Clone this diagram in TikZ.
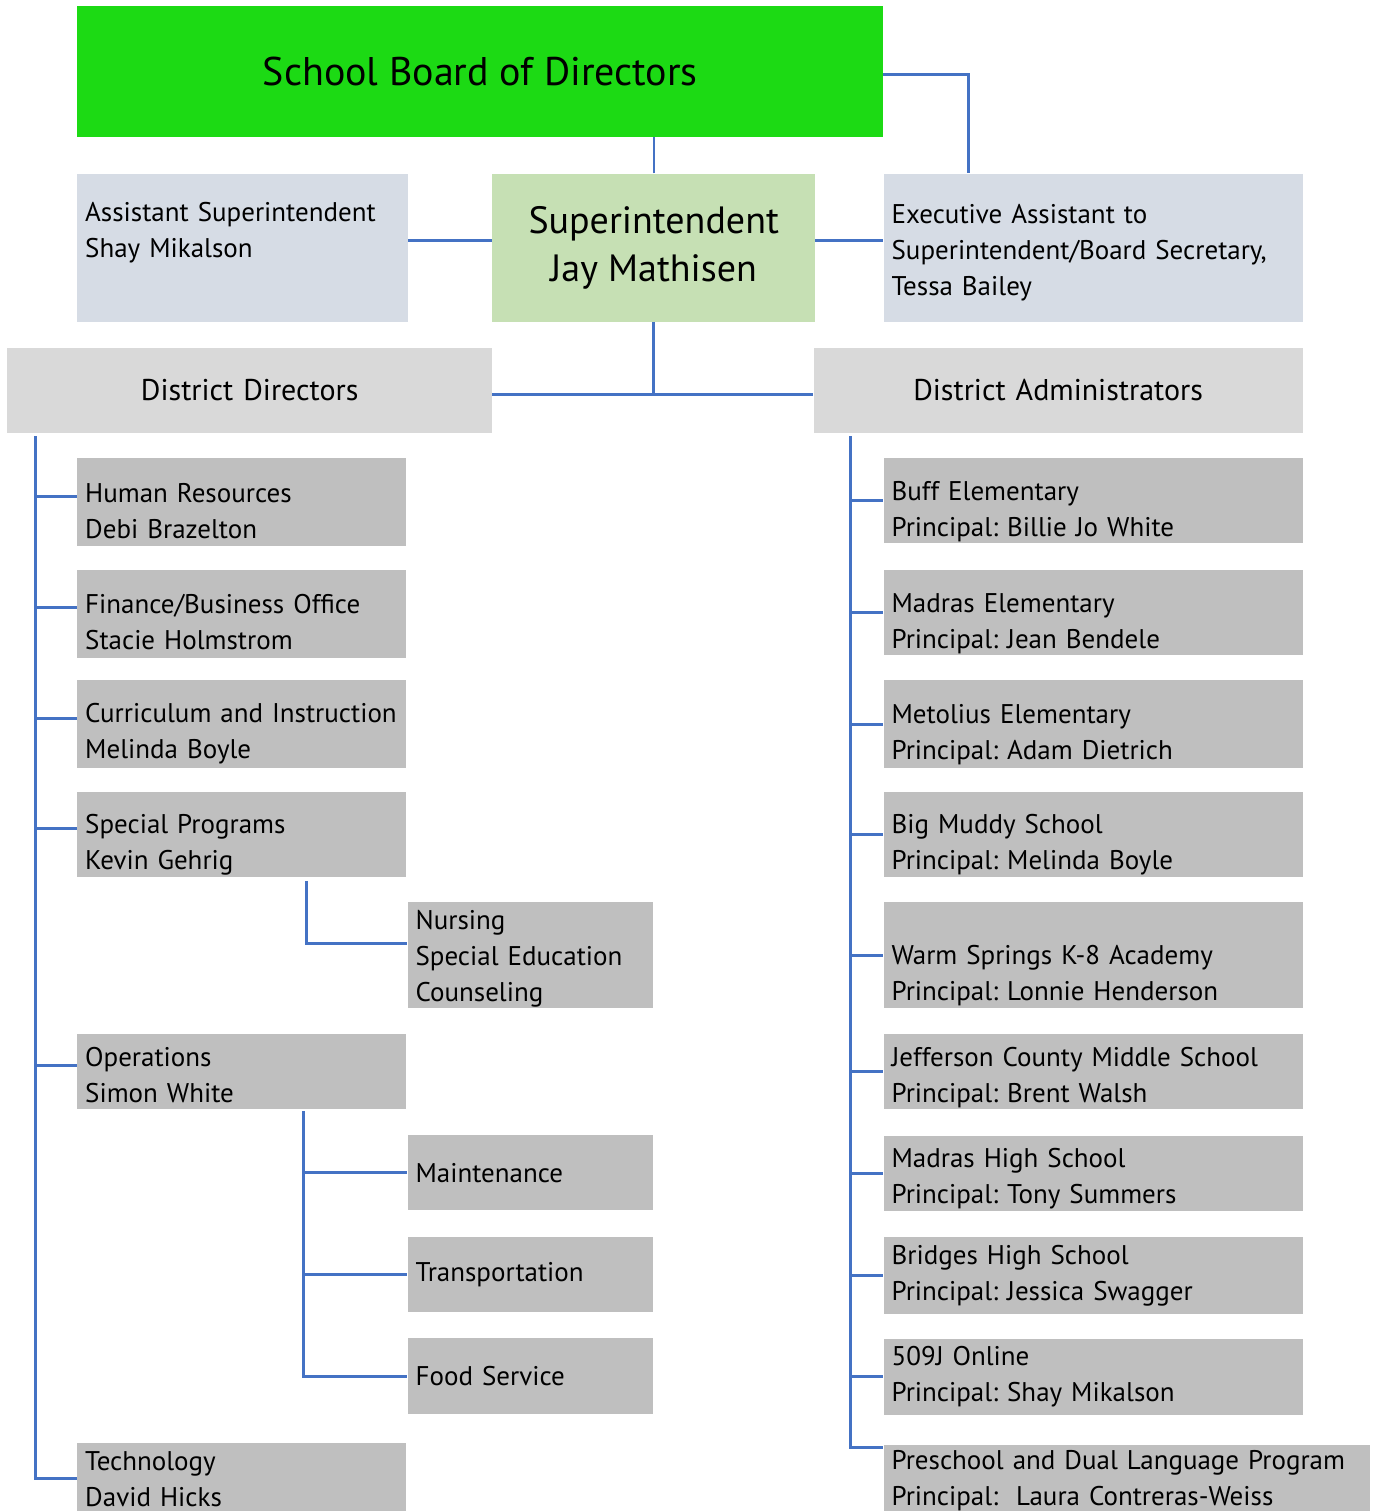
\documentclass[tikz,border=0pt]{standalone}
\usepackage{fontspec}
\setmainfont{PT Sans}
\usetikzlibrary{positioning}
\definecolor{boardgreen}{RGB}{28,218,20}
\definecolor{suptgreen}{RGB}{198,224,180}
\definecolor{staffblue}{RGB}{214,220,229}
\definecolor{headgray}{RGB}{217,217,217}
\definecolor{unitgray}{RGB}{191,191,191}
\definecolor{linkblue}{RGB}{68,114,196}
\frenchspacing

\begin{document}
\begin{tikzpicture}[x=1pt, y=1pt, node distance=25pt]
		% Define elements
		\tikzstyle{line} = [draw, linkblue, line width=3pt]
		\tikzstyle{thinline} = [draw, linkblue, line width=2pt]
		\tikzstyle{block} = [rectangle, inner xsep=8pt, inner ysep=0pt,
		    align=left, font=\fontsize{27}{36}\selectfont]
		\tikzstyle{unitbox} = [block, fill=unitgray]
		\tikzstyle{staff} = [block, fill=staffblue]
		\tikzstyle{header} = [block, fill=headgray, align=center, font=\fontsize{30}{36}\selectfont]
		% pushes the text of a box down (height of first line)
		\tikzset{textdrop/.style={execute at begin node={\rule{0pt}{#1}}}}
		\useasboundingbox (0,0) rectangle (1373,-1511);

		%% Board and superintendent
		\node [name = board, rectangle, fill=boardgreen, anchor=north west,
			minimum width=806pt, minimum height=131pt,
			font=\fontsize{40}{48}\selectfont] at (77,-6) {School Board of Directors};
		\node [name = asst, staff, text width=315pt, minimum height=148pt,
			below=36pt of board.south west, anchor=north west] {Assistant Superintendent\\Shay Mikalson\\\mbox{}};
		\node [name = supt, rectangle, fill=suptgreen, align=center,
			minimum width=323pt, minimum height=148pt,
			font=\fontsize{38}{48}\selectfont,
			below right=36pt and 415pt of board.south west, anchor=north west] {Superintendent\\Jay Mathisen};
		\node [name = exec, staff, text width=403pt, minimum height=148pt, textdrop=29pt,
			below=36pt of board.south east, anchor=north west] {Executive Assistant to\\Superintendent/Board Secretary,\\Tessa Bailey};

		%% Directors / Administrators
		\node [name = dirs, header, text width=469pt, minimum height=85pt,
			below left=26pt and 70pt of asst.south west, anchor=north west] {District Directors};
		\node [name = admins, header, text width=473pt, minimum height=85pt,
			below left=26pt and 70pt of exec.south west, anchor=north west] {District Administrators};

		%% District directors
		\node [name = hr, unitbox, text width=313pt, minimum height=88pt, textdrop=37pt,
			below right=25pt and 70pt of dirs.south west, anchor=north west] {Human Resources\\Debi Brazelton};
		\node [name = fin, unitbox, text width=313pt, minimum height=88pt, textdrop=35pt,
			below=23pt of hr.south west, anchor=north west] {Finance/Business Office\\Stacie Holmstrom};
		\node [name = cur, unitbox, text width=313pt, minimum height=88pt, textdrop=39pt,
			below=22pt of fin.south west, anchor=north west] {Curriculum and Instruction\\Melinda Boyle};
		\node [name = spec, unitbox, text width=313pt, minimum height=85pt, textdrop=41pt,
			below=23pt of cur.south west, anchor=north west] {Special Programs\\Kevin Gehrig};
		\node [name = nurse, unitbox, text width=229pt, minimum height=106pt, textdrop=26pt,
			below right=25pt and 1pt of spec.south east, anchor=north west] {Nursing\\Special Education\\Counseling};
		\node [name = ops, unitbox, text width=313pt, minimum height=75pt, textdrop=27pt,
			below=157pt of spec.south west, anchor=north west] {Operations\\Simon White};
		\node [name = maint, unitbox, text width=229pt, minimum height=75pt,
			below right=26pt and 1pt of ops.south east, anchor=north west] {Maintenance};
		\node [name = trans, unitbox, text width=229pt, minimum height=75pt,
			below=26pt of maint.south west, anchor=north west] {Transportation};
		\node [name = food, unitbox, text width=229pt, minimum height=76pt,
			below=26pt of trans.south west, anchor=north west] {Food Service};
		\node [name = tech, unitbox, text width=313pt, minimum height=71pt,
			below=334pt of ops.south west, anchor=north west] {Technology\\David Hicks};

		%% District administrators
		\node [name = buff, unitbox, text width=403pt, minimum height=85pt, textdrop=41pt,
			below right=25pt and 70pt of admins.south west, anchor=north west] {Buff Elementary\\Principal: Billie Jo White};
		\node [name = madel, unitbox, text width=403pt, minimum height=85pt, textdrop=41pt,
			below=26pt of buff.south west, anchor=north west] {Madras Elementary\\Principal: Jean Bendele};
		\node [name = metol, unitbox, text width=403pt, minimum height=88pt, textdrop=39pt,
			below=25pt of madel.south west, anchor=north west] {Metolius Elementary\\Principal: Adam Dietrich};
		\node [name = muddy, unitbox, text width=403pt, minimum height=85pt, textdrop=41pt,
			below=23pt of metol.south west, anchor=north west] {Big Muddy School\\Principal: Melinda Boyle};
		\node [name = warm, unitbox, text width=403pt, minimum height=106pt, textdrop=60pt,
			below=25pt of muddy.south west, anchor=north west] {Warm Springs K-8 Academy\\Principal: Lonnie Henderson};
		\node [name = jeff, unitbox, text width=403pt, minimum height=75pt, textdrop=31pt,
			below=26pt of warm.south west, anchor=north west] {Jefferson County Middle School\\Principal: Brent Walsh};
		\node [name = mhs, unitbox, text width=403pt, minimum height=75pt, textdrop=29pt,
			below=26pt of jeff.south west, anchor=north west] {Madras High School\\Principal: Tony Summers};
		\node [name = bridges, unitbox, text width=403pt, minimum height=77pt,
			below=26pt of mhs.south west, anchor=north west] {Bridges High School\\Principal: Jessica Swagger};
		\node [name = online, unitbox, text width=403pt, minimum height=76pt,
			below=24pt of bridges.south west, anchor=north west] {509J Online\\Principal: Shay Mikalson};
		\node [name = pre, unitbox, text width=470pt, minimum height=71pt,
			below=30pt of online.south west, anchor=north west] {Preschool and Dual Language Program\\Principal:~ Laura Contreras-Weiss};

	% lines
		\path [thinline] (supt.north) -- (supt.north |- board.south);
		\path [line] ([yshift=-3pt]board.east) -| ([xshift=85pt]exec.north west);
		\path [line] ([yshift=7pt]asst.east) -- ([yshift=7pt]supt.west);
		\path [line] ([yshift=7pt]supt.east) -- ([yshift=7pt]exec.west);
		\path [line] (supt.south) -- ([yshift=-4pt]supt.south |- dirs.east);
		\path [line] ([yshift=-4pt]dirs.east) -- ([yshift=-4pt]admins.west);

		\coordinate (ltop) at ([xshift=28pt, yshift=-3pt]dirs.south west);
		\path [line] (ltop) |- (tech.west);
		\foreach \n in {hr, fin, cur, spec, ops}
			\path [line] ([yshift=6pt]ltop |- \n.west) -- ([yshift=6pt]\n.west);
		\coordinate (specdrop) at ([xshift=229pt, yshift=-4pt]spec.south west);
		\path [line] (specdrop) |- ([yshift=12pt]nurse.west);
		\coordinate (opsdrop) at ([xshift=226pt, yshift=-2pt]ops.south west);
		\path [line] (opsdrop) |- (food.west);
		\foreach \n in {maint, trans}
			\path [line] (opsdrop |- \n.west) -- (\n.west);

		\coordinate (rtop) at ([xshift=37pt, yshift=-3pt]admins.south west);
		\path [line] (rtop) |- ([yshift=-3pt]pre.north west);
		\foreach \n in {buff, madel, metol, muddy, warm, jeff, mhs, bridges, online}
			\path [line] (rtop |- \n.west) -- (\n.west);
	\end{tikzpicture}
\end{document}
